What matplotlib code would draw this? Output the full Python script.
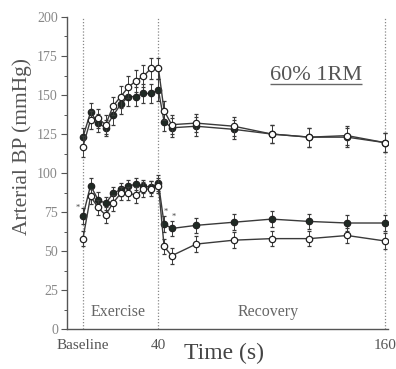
import matplotlib
matplotlib.use("Agg")
import matplotlib.pyplot as plt
from matplotlib.ticker import MultipleLocator

plt.rcParams['font.family'] = ['Liberation Serif', 'DejaVu Serif']

# Sampling times (s): baseline, exercise every 4 s, then recovery
time = [0, 4, 8, 12, 16, 20, 24, 28, 32, 36, 40, 43, 47, 60, 80, 100, 120, 140, 160]

# Systolic pressure (mmHg)
sys_filled = [123, 139, 132, 129, 137, 144, 149, 149, 151, 151, 153, 133, 129, 130, 128, 125, 123, 123, 119.5]
sys_filled_err = [6, 6, 6, 5, 6, 6, 6, 6, 6, 6, 7, 6, 6, 6, 6, 6, 6, 6, 6]
sys_open = [117, 134, 135, 131, 143, 149, 155, 159, 162, 167, 167, 140, 131, 132, 130, 125, 123, 124, 119.5]
sys_open_err = [7, 6, 6, 6, 6, 7, 7, 7, 7, 7, 7, 6, 6, 6, 6, 6, 6, 6, 6]

# Diastolic pressure (mmHg)
dia_filled = [72.5, 92, 83, 80.5, 87, 89.5, 91.5, 93, 91.5, 91, 93.5, 67.5, 64.5, 66.5, 68.5, 70.5, 69, 68, 68]
dia_filled_err = [5, 5, 5, 4, 4, 4, 4, 4, 4, 4, 5, 5, 5, 5, 5, 5, 5, 5, 5]
dia_open = [58, 85, 78, 73, 81, 87, 87, 86, 89.5, 90, 92, 53, 47, 54.5, 57, 58, 58, 60, 56.5]
dia_open_err = [5, 5, 5, 5, 5, 4, 4, 5, 5, 5, 5, 5, 5, 5, 5, 5, 5, 5, 5]

phase_marks = [0, 40, 160]
xtick_labels = ['Baseline', '40', '160']

fig = plt.figure(figsize=(3.96, 3.69), dpi=100)
ax = fig.add_axes([0.169, 0.108, 0.811, 0.846])

line_col = '#3a3a3a'
fill_col = '#1f2a24'
txt_col = '#555555'

for t in phase_marks:
    ax.axvline(t, color='#888888', lw=0.9, ls=(0, (1, 1.5)), zorder=1)

def series(y, err, filled):
    ax.errorbar(time, y, yerr=err, color=line_col, lw=1.0,
                elinewidth=0.7, capsize=1.5, capthick=0.7,
                marker='o', ms=4.6,
                mfc=fill_col if filled else 'white',
                mec='#222222', mew=0.9, zorder=3 if filled else 4)

series(sys_filled, sys_filled_err, True)
series(sys_open, sys_open_err, False)
series(dia_filled, dia_filled_err, True)
series(dia_open, dia_open_err, False)

# significance markers
for tx, ty in [(-3, 78), (44, 75), (48, 72)]:
    ax.text(tx, ty, '*', fontsize=6, color='#444444', ha='center', va='center')

ax.set_xlim(-8.5, 161.7)
ax.set_ylim(0, 200)
ax.set_yticks([0, 25, 50, 75, 100, 125, 150, 175, 200])
ax.yaxis.set_minor_locator(MultipleLocator(12.5))
ax.set_xticks(phase_marks)
ax.set_xticklabels(xtick_labels)

for s in ['top', 'right']:
    ax.spines[s].set_visible(False)
for s in ['left', 'bottom']:
    ax.spines[s].set_color('#555555')
    ax.spines[s].set_linewidth(1.0)

ax.tick_params(axis='y', direction='out', length=4, width=0.8, colors='#555555',
               labelsize=10, labelcolor='#888888', pad=2.5)
ax.tick_params(axis='y', which='minor', direction='out', length=2.5, width=0.7, colors='#555555')
ax.tick_params(axis='x', length=0, labelsize=11, labelcolor='#555555', pad=7)

ax.set_ylabel('Arterial BP (mmHg)', fontsize=15.5, color=txt_col)
ax.yaxis.set_label_coords(-0.11, 0.585)
ax.set_xlabel('Time (s)', fontsize=17, color='#444444')
ax.xaxis.set_label_coords(0.49, -0.043)

ax.text(18.5, 11, 'Exercise', fontsize=11.5, color='#666666', ha='center', va='center')
ax.text(98, 11, 'Recovery', fontsize=11.5, color='#666666', ha='center', va='center')

ax.text(123.5, 159.5, '60% 1RM', fontsize=16, color='#555555', ha='center', va='baseline')
ax.plot([99, 148], [157, 157], color='#666666', lw=1.0, solid_capstyle='butt')

fig.savefig('out.png', dpi=100)
